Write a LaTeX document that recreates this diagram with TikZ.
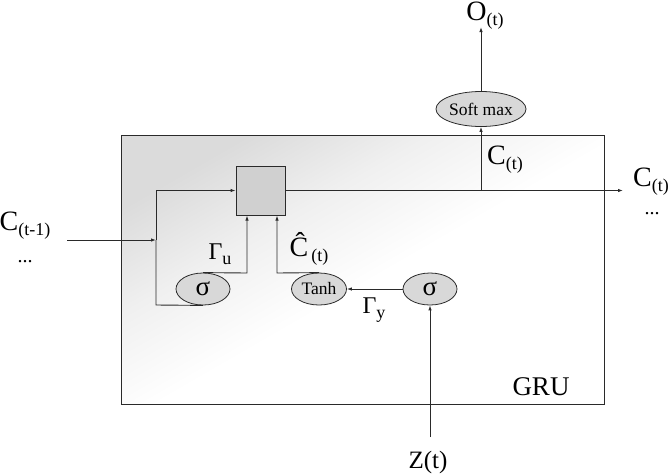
\documentclass[tikz,border=0pt]{standalone}
\usepackage{fontspec}
\setmainfont{Liberation Serif}
\usetikzlibrary{shapes.geometric,arrows.meta}
\definecolor{ln}{HTML}{2A2A2A}
\definecolor{elfill}{HTML}{D8D8D8}
\definecolor{sqfill}{HTML}{D0D0D0}
\pgfdeclareverticalshading{grubg}{100bp}{color(0bp)=(white); color(48bp)=(white); color(62bp)=(black!6); color(75bp)=(black!14); color(100bp)=(black!14)}
\newcommand{\biglbl}[2]{{\fontsize{28}{28}\selectfont #1}\raisebox{-5pt}{\fontsize{18}{18}\selectfont #2}}
\newcommand{\gamlbl}[2]{{\fontsize{24}{24}\selectfont #1}\raisebox{-5pt}{\fontsize{18}{18}\selectfont #2}}
\tikzset{
  conn/.style={draw=ln, line width=0.9pt},
  arr/.style={conn, -{Latex[length=5pt,width=3.5pt]}},
  gate/.style={ellipse, draw=ln, fill=elfill, line width=0.8pt, inner sep=0pt},
  lbl/.style={inner sep=0pt, text=black},
}
\begin{document}
\begin{tikzpicture}[x=1pt,y=-1pt]
\useasboundingbox (0,0) rectangle (669,475);
% GRU box
\shade[shading=grubg, shading angle=30]
  (121,135) rectangle (604,404);
\draw[ln, line width=1pt] (121,135) rectangle (604,404);
% square
\node[draw=ln, fill=sqfill, line width=0.9pt, minimum width=49pt, minimum height=49pt, inner sep=0pt] (sq) at (260.5,190.5) {};
% gates
\node[gate, minimum width=54pt, minimum height=32pt] (sig1) at (203,289) {\fontsize{27}{27}\selectfont σ};
\node[gate, minimum width=55pt, minimum height=32pt] (tanh) at (319,289) {\fontsize{17.5}{17.5}\selectfont Tanh};
\node[gate, minimum width=82pt, minimum height=35pt] (soft) at (481,109) {\fontsize{17.5}{17.5}\selectfont Soft max};
\node[gate, minimum width=54pt, minimum height=32pt] (sig2) at (430,289) {\fontsize{27}{27}\selectfont σ};
% coordinates
\coordinate (cin) at (67,240);
\coordinate (jl) at (156,240);
\coordinate (jtop) at (156,190.5);
\coordinate (jbot) at (156,305);
\coordinate (cout) at (623,190.5);
\coordinate (ct) at (481,190.5);
\coordinate (otop) at (481,27);
\coordinate (zin) at (430,437);
% connectors
\draw[arr] (cin) -- (jl);
\draw[arr] (jl) -- (jtop) -- (sq.west);
\draw[conn] (jl) -- (jbot) -- (sig1.south);
\draw[arr] (sig1.north) -- (247,273) -- (247,215.5);
\draw[arr] (tanh.north) -- (277,273) -- (277,215.5);
\draw[arr] (sig2.west) -- (tanh.east);
\draw[arr] (zin) -- (sig2.south);
\draw[arr] (sq.east) -- (cout);
\draw[arr] (ct) -- (soft.south);
\draw[arr] (soft.north) -- (otop);
% labels
\node[lbl] (lo) at (485,16) {\biglbl{O}{(t)}};
\node[lbl] (lci) at (505,160) {\biglbl{C}{(t)}};
\node[lbl] (lco) at (651,182) {\biglbl{C}{(t)}};
\node[lbl] (dr) at (652,214) {\fontsize{20}{20}\selectfont ...};
\node[lbl] (lcp) at (25,226) {\biglbl{C}{(t-1)}};
\node[lbl] (dl) at (25,262) {\fontsize{20}{20}\selectfont ...};
\node[lbl] (gu) at (220,254) {\gamlbl{Γ}{u}};
\node[lbl] (chat) at (309,249) {\biglbl{Ĉ}{\,(t)}};
\node[lbl] (gy) at (374,310) {\gamlbl{Γ}{y}};
\node[lbl] (zl) at (428,462) {\fontsize{25}{25}\selectfont Z(t)};
\node[lbl] (gru) at (541,387) {\fontsize{27}{27}\selectfont GRU};
\end{tikzpicture}
\end{document}
